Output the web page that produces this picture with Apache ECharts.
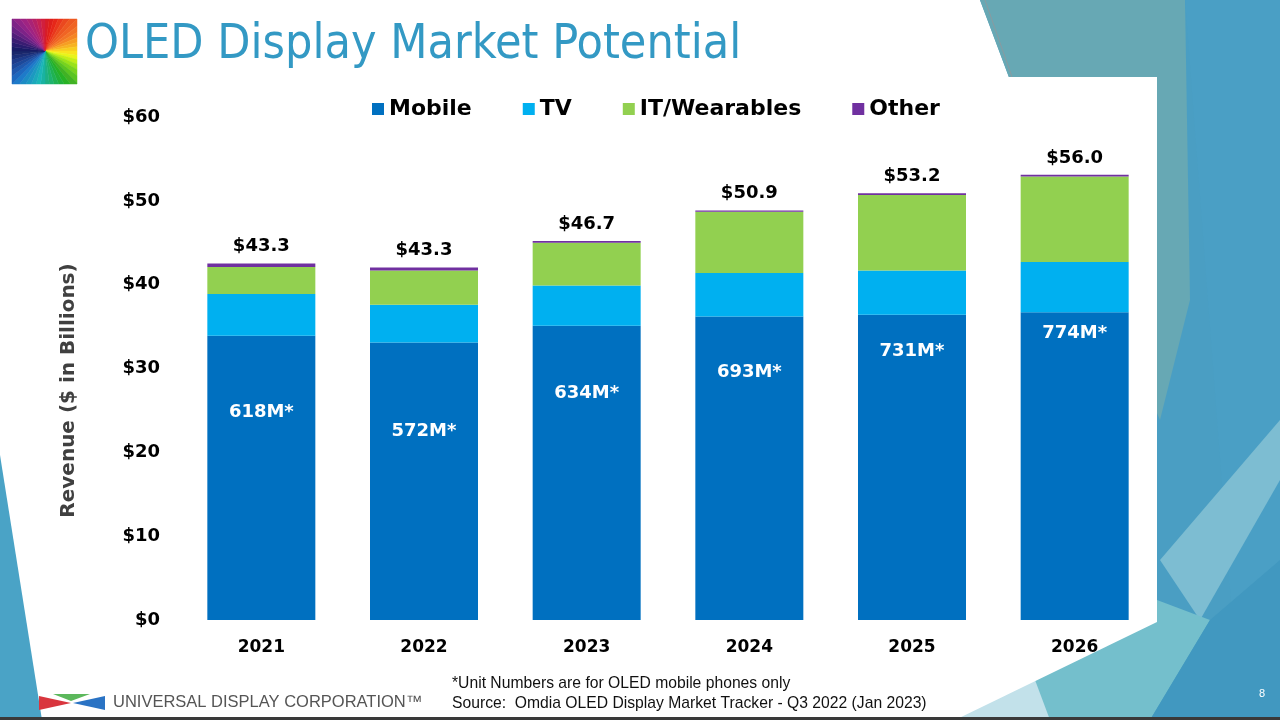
<!DOCTYPE html>
<html>
<head>
<meta charset="utf-8">
<script src="https://cdn.jsdelivr.net/npm/echarts@6/dist/echarts.min.js"></script>
<style>
html,body{margin:0;padding:0;background:#fff;}
#chart{width:1280px;height:720px;}
</style>
</head>
<body>
<div id="chart"></div>
<script>
// ---------- data ----------
const years = ['2021', '2022', '2023', '2024', '2025', '2026'];
const mobile = [33.9, 33.1, 35.1, 36.2, 36.4, 36.7];
const tv = [5.0, 4.5, 4.8, 5.2, 5.3, 6.0];
const itWearables = [3.2, 4.1, 5.1, 7.3, 9.0, 10.2];
const other = [0.43, 0.36, 0.2, 0.16, 0.2, 0.2];
const totalLabels = ['$43.3', '$43.3', '$46.7', '$50.9', '$53.2', '$56.0'];
const unitLabels = ['618M*', '572M*', '634M*', '693M*', '731M*', '774M*'];
const yTicks = [0, 10, 20, 30, 40, 50, 60];
const seriesNames = ['Mobile', 'TV', 'IT/Wearables', 'Other'];

// layout constants (pixel offset of unit label below top of mobile segment)
const unitLabelOffsetPx = [77, 89, 68, 56, 36, 21];

const colors = ['#0070C0', '#00B0F0', '#92D050', '#7030A0'];
const boldFont = '"DejaVu Sans", Verdana, sans-serif';

// ---------- decoration: rainbow logo ----------
function rainbowLogo() {
  const x0 = 12, y0 = 19, s = 65, cx = 45, cy = 51;
  const els = [];
  const N = 48;
  function edgePoint(a) {
    const dx = Math.sin(a), dy = -Math.cos(a);
    let t = Infinity;
    if (dx > 1e-9) t = Math.min(t, (x0 + s - cx) / dx);
    if (dx < -1e-9) t = Math.min(t, (x0 - cx) / dx);
    if (dy > 1e-9) t = Math.min(t, (y0 + s - cy) / dy);
    if (dy < -1e-9) t = Math.min(t, (y0 - cy) / dy);
    return [cx + dx * t, cy + dy * t];
  }
  const stops = [[0, 355, 75, 48], [60, 25, 90, 55], [95, 55, 95, 55], [140, 110, 65, 42], [185, 175, 75, 40], [225, 210, 75, 45], [270, 232, 60, 24], [315, 300, 60, 34], [360, 355, 75, 48]];
  function colorAt(deg) {
    for (let i = 0; i < stops.length - 1; i++) {
      const a = stops[i], b = stops[i + 1];
      if (deg >= a[0] && deg <= b[0]) {
        const t = (deg - a[0]) / (b[0] - a[0]);
        let h1 = a[1], h2 = b[1];
        if (Math.abs(h2 - h1) > 180) { if (h2 > h1) h1 += 360; else h2 += 360; }
        const h = (h1 + (h2 - h1) * t) % 360;
        const sat = a[2] + (b[2] - a[2]) * t, l = a[3] + (b[3] - a[3]) * t;
        return 'hsl(' + h.toFixed(0) + ',' + sat.toFixed(0) + '%,' + l.toFixed(0) + '%)';
      }
    }
    return '#888';
  }
  for (let i = 0; i < N; i++) {
    const a1 = (i / N) * Math.PI * 2, a2 = ((i + 1) / N) * Math.PI * 2;
    const pts = [[cx, cy], edgePoint(a1)];
    const corners = [[x0 + s, y0], [x0 + s, y0 + s], [x0, y0 + s], [x0, y0]];
    corners.forEach(c => {
      let ca = Math.atan2(c[0] - cx, -(c[1] - cy));
      if (ca < 0) ca += Math.PI * 2;
      if (ca > a1 && ca < a2) pts.push(c);
    });
    pts.push(edgePoint(a2));
    const col = colorAt(((i + 0.5) / N) * 360);
    els.push({ type: 'polygon', z: -5, silent: true, shape: { points: pts }, style: { fill: col, stroke: col, lineWidth: 0.5 } });
  }
  return els;
}

const background = [
  { type: 'rect', z: -20, silent: true, shape: { x: 0, y: 0, width: 1280, height: 720 }, style: { fill: '#ffffff' } },
  { type: 'polygon', z: -19, silent: true, shape: { points: [[980, 0], [1280, 0], [1280, 720], [935, 720], [1010, 80]] }, style: { fill: '#4a9ec3' } },
  { type: 'polygon', z: -18, silent: true, shape: { points: [[980, 0], [1185, 0], [1190, 300], [1160, 420], [1010, 80]] }, style: { fill: '#67a8b4' } },
  { type: 'polygon', z: -17, silent: true, shape: { points: [[1185, 0], [1280, 0], [1280, 720], [1240, 720]] }, style: { fill: '#4a9fc5' } },
  { type: 'polygon', z: -16, silent: true, shape: { points: [[1160, 560], [1280, 420], [1280, 480], [1200, 620]] }, style: { fill: '#7dbdd2' } },
  { type: 'polygon', z: -16, silent: true, shape: { points: [[940, 720], [1157, 600], [1210, 620], [1150, 720]] }, style: { fill: '#74bfcc' } },
  { type: 'polygon', z: -15, silent: true, shape: { points: [[955, 720], [1020, 640], [1050, 720]] }, style: { fill: '#c2e1ea' } },
  { type: 'polygon', z: -15, silent: true, shape: { points: [[1150, 720], [1210, 620], [1280, 560], [1280, 720]] }, style: { fill: '#4198c0' } },
  // white chart panel
  { type: 'rect', z: -10, silent: true, shape: { x: 0, y: 77, width: 1157, height: 543 }, style: { fill: '#ffffff' } },
  { type: 'rect', z: -10, silent: true, shape: { x: 0, y: 0, width: 980, height: 77 }, style: { fill: '#ffffff' } },
  { type: 'polygon', z: -10, silent: true, shape: { points: [[0, 620], [1157, 620], [1157, 622], [955, 720], [0, 720]] }, style: { fill: '#ffffff' } },
  { type: 'polygon', z: -9, silent: true, shape: { points: [[0, 455], [42, 720], [0, 720]] }, style: { fill: '#4aa3c6' } },
  { type: 'line', z: -9, silent: true, shape: { x1: 985, y1: 0, x2: 1012, y2: 77 }, style: { stroke: '#8a9aa0', lineWidth: 1 } },
  { type: 'rect', z: -8, silent: true, shape: { x: 0, y: 717, width: 1280, height: 3 }, style: { fill: '#3a3a3a' } }
];

const footer = [
  { type: 'polygon', z: 5, silent: true, shape: { points: [[53, 694], [90, 694], [71, 701]] }, style: { fill: '#5cb85c' } },
  { type: 'polygon', z: 5, silent: true, shape: { points: [[39, 696], [39, 710], [71, 703]] }, style: { fill: '#d9363e' } },
  { type: 'polygon', z: 5, silent: true, shape: { points: [[105, 696], [105, 710], [73, 703]] }, style: { fill: '#2a73c4' } },
  { type: 'text', z: 5, silent: true, style: { x: 113, y: 702, text: 'UNIVERSAL DISPLAY CORPORATION\u2122', font: '16.5px "Liberation Sans", Arial, sans-serif', fill: '#555555', verticalAlign: 'middle', align: 'left' } },
  { type: 'text', z: 5, silent: true, style: { x: 452, y: 684, text: '*Unit Numbers are for OLED mobile phones only', font: '15.7px "Liberation Sans", Arial, sans-serif', fill: '#111111', verticalAlign: 'middle', align: 'left' } },
  { type: 'text', z: 5, silent: true, style: { x: 452, y: 704, text: 'Source:  Omdia OLED Display Market Tracker - Q3 2022 (Jan 2023)', font: '15.7px "Liberation Sans", Arial, sans-serif', fill: '#111111', verticalAlign: 'middle', align: 'left' } },
  { type: 'text', z: 5, silent: true, style: { x: 1262, y: 694, text: '8', font: '11px "Liberation Sans", Arial, sans-serif', fill: '#ffffff', verticalAlign: 'middle', align: 'center' } },
  { type: 'text', z: 5, silent: true, style: { x: 85, y: 46, text: 'OLED Display Market Potential', font: '48px "DejaVu Sans Condensed", "Liberation Sans", Arial, sans-serif', fill: '#3399c4', verticalAlign: 'middle', align: 'left' } }
];

// ---------- chart ----------
const chart = echarts.init(document.getElementById('chart'));

const mobileData = mobile.map((v, i) => ({
  value: v,
  label: {
    show: true,
    position: ['50%', unitLabelOffsetPx[i]],
    align: 'center',
    verticalAlign: 'middle',
    formatter: unitLabels[i],
    color: '#ffffff',
    fontSize: 18,
    fontWeight: 'bold',
    fontFamily: boldFont
  }
}));

const seriesData = [mobileData, tv, itWearables, other];

const series = seriesNames.map((name, k) => ({
  name: name,
  type: 'bar',
  stack: 'total',
  barWidth: 108,
  z: 10,
  itemStyle: { color: colors[k] },
  data: seriesData[k],
  label: k === 3 ? {
    show: true,
    position: 'top',
    distance: 8,
    formatter: p => totalLabels[p.dataIndex],
    color: '#000000',
    fontSize: 18,
    fontWeight: 'bold',
    fontFamily: boldFont
  } : { show: false }
}));

chart.setOption({
  animation: false,
  backgroundColor: 'transparent',
  color: colors,
  graphic: { elements: background.concat(rainbowLogo(), footer) },
  legend: {
    data: seriesNames,
    left: 367,
    top: 93,
    icon: 'rect',
    itemWidth: 12,
    itemHeight: 12,
    itemGap: 51,
    textStyle: { fontSize: 22, fontWeight: 'bold', color: '#000', fontFamily: boldFont }
  },
  grid: { left: 180, right: 124, top: 117, bottom: 100, containLabel: false },
  xAxis: {
    type: 'category',
    data: years,
    z: 10,
    axisLine: { show: false },
    axisTick: { show: false },
    axisLabel: { margin: 19, fontSize: 17, fontWeight: 'bold', color: '#000', fontFamily: boldFont }
  },
  yAxis: {
    type: 'value',
    min: yTicks[0],
    max: yTicks[yTicks.length - 1],
    interval: 10,
    z: 10,
    name: 'Revenue ($ in Billions)',
    nameLocation: 'middle',
    nameRotate: 90,
    nameGap: 101,
    nameTextStyle: { fontSize: 20, fontWeight: 'bold', color: '#404040', fontFamily: boldFont, padding: [0, 0, 0, -44] },
    axisLine: { show: false },
    axisTick: { show: false },
    splitLine: { show: false },
    axisLabel: { margin: 20, fontSize: 18, fontWeight: 'bold', color: '#000', fontFamily: boldFont, formatter: v => '$' + v }
  },
  series: series
});
</script>
</body>
</html>
